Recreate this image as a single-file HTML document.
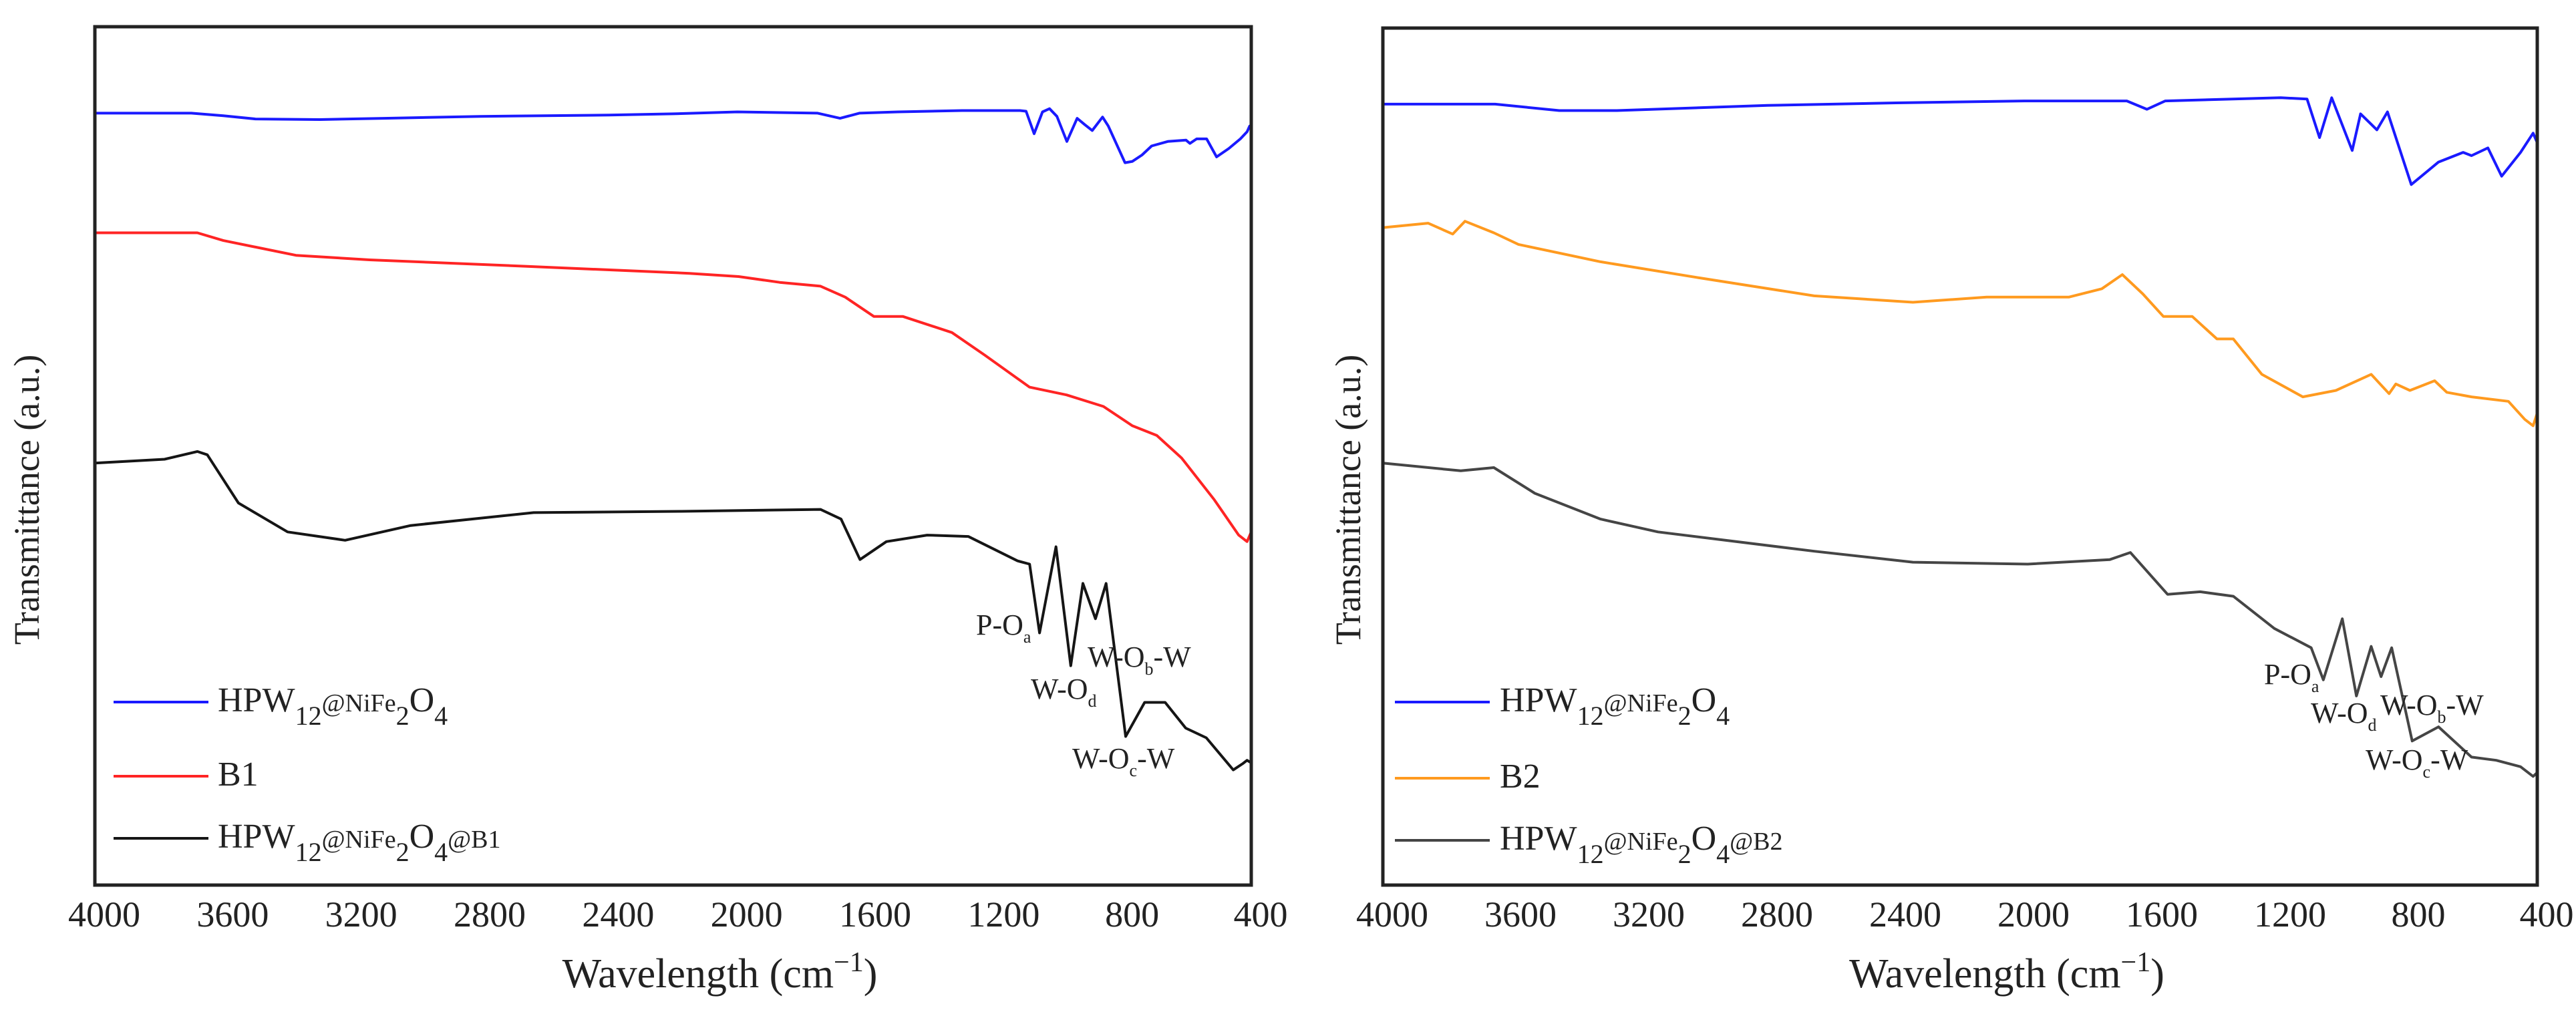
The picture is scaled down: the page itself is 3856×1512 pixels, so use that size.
<!DOCTYPE html>
<html><head><meta charset="utf-8">
<style>
html,body{margin:0;padding:0;background:#fff;}
svg{display:block;}
text{font-family:"Liberation Serif",serif;fill:#222;}
</style></head>
<body>
<svg id="chart" width="3856" height="1512" viewBox="0 0 3856 1512" xmlns="http://www.w3.org/2000/svg">
<g id="p1"></g>
<g id="p2"></g>
</svg>
<script>
const xTicks = [4000,3600,3200,2800,2400,2000,1600,1200,800,400];

const leftBlueW = [4000,3700,3600,3500,3300,3100,2800,2400,2200,2000,1750,1680,1620,1500,1300,1120,1101,1076,1050,1028,1005,974,942,918,895,863,845,793,770,740,710,660,603,591,570,539,508,470,434,413,405,400];
const leftBlueV = [120.0,120.0,119.6,119.1,119.0,119.2,119.5,119.7,119.9,120.2,120.0,119.2,120.0,120.2,120.4,120.4,120.3,116.8,120.2,120.7,119.5,115.6,119.2,118.2,117.3,119.4,118.0,112.3,112.5,113.5,114.9,115.6,115.8,115.3,116.0,116.0,113.2,114.5,116.0,117.1,118.0,117.5];

const leftRedW = [4000,3681,3600,3374,3145,2660,2149,1996,1868,1741,1664,1575,1485,1332,1230,1090,975,860,770,694,617,515,439,413,400];
const leftRedV = [101.4,101.4,100.2,97.9,97.2,96.2,95.1,94.6,93.7,93.1,91.4,88.4,88.4,85.9,82.4,77.4,76.2,74.4,71.4,69.9,66.4,59.9,54.4,53.4,54.9];

const leftBlackW = [4000,3783,3681,3650,3553,3400,3221,3017,2634,2175,1741,1677,1618,1536,1409,1281,1128,1090,1059,1008,962,924,885,852,791,732,668,604,540,456,426,413,400];
const leftBlackV = [65.6,66.2,67.4,66.9,59.4,54.9,53.6,55.9,57.9,58.1,58.4,56.9,50.6,53.4,54.4,54.2,50.4,49.9,39.2,52.6,34.1,46.9,41.4,46.9,23.1,28.4,28.4,24.4,22.9,17.9,18.9,19.4,19.0];

const rightBlueW = [4000,3650,3450,3270,2800,2400,2000,1680,1617,1560,1200,1118,1079,1041,977,951,900,867,793,708,631,605,554,511,452,413,400];
const rightBlueV = [121.4,121.4,120.4,120.4,121.2,121.6,121.9,121.9,120.6,121.9,122.4,122.2,116.2,122.4,114.2,119.9,117.4,120.2,108.9,112.4,113.9,113.4,114.6,110.2,113.9,116.9,115.4];

const rightOrangeW = [4000,3859,3782,3744,3654,3577,3321,3014,2655,2347,2117,1861,1758,1694,1630,1566,1476,1399,1348,1259,1131,1028,918,862,841,797,720,682,605,490,439,413,400];
const rightOrangeV = [102.2,102.9,101.2,103.2,101.4,99.6,96.9,94.4,91.6,90.6,91.4,91.4,92.7,94.9,91.9,88.4,88.4,84.9,84.9,79.4,75.9,76.9,79.4,76.4,77.9,76.9,78.4,76.6,75.9,75.2,72.4,71.4,73.4];

const rightGreyW = [4000,3757,3654,3526,3321,3142,2655,2347,1989,1733,1669,1553,1451,1348,1220,1105,1067,1008,964,918,887,854,790,708,605,528,452,413,400];
const rightGreyV = [65.6,64.4,64.9,60.9,56.9,54.9,51.9,50.2,49.9,50.6,51.7,45.2,45.6,44.9,39.9,36.9,31.9,41.4,29.4,37.1,32.4,36.9,22.4,24.6,19.9,19.4,18.4,16.9,17.5];

const leftLegend = [["HPW","12","@NiFe","2","O","4",""],["B1"],["HPW","12","@NiFe","2","O","4","@B1"]];
const rightLegend = [["HPW","12","@NiFe","2","O","4",""],["B2"],["HPW","12","@NiFe","2","O","4","@B2"]];

const NS = "http://www.w3.org/2000/svg";
function mk(tag, attrs, parent){
  const e = document.createElementNS(NS, tag);
  for (const k in attrs) e.setAttribute(k, attrs[k]);
  parent.appendChild(e);
  return e;
}

function panel(g, L, R, T, B, series, legendRows, legendX, legendYs, textX, yTitleX, annos){
  const xs = w => L + (4000 - w) / 3600 * (R - L);
  const ys = v => B - v * 9.63;
  series.forEach(s => {
    let d = "";
    s.w.forEach((w,i) => { d += (i ? "L" : "M") + xs(w).toFixed(1) + " " + ys(s.v[i]).toFixed(1); });
    const p = mk("path", {d:d, fill:"none", stroke:s.c, "stroke-width":4, "stroke-linejoin":"round"}, g);
    
    
  });
  const fr = mk("rect", {x:L, y:T, width:R-L, height:B-T, fill:"none", stroke:"#222", "stroke-width":5}, g);
  
  
  xTicks.forEach(t => {
    const tx = mk("text", {x:xs(t)+14, y:B+62, "font-size":54, "text-anchor":"middle"}, g);
    tx.textContent = t;
    
    
  });
  const xt = mk("text", {x:(L+R)/2+70, y:1478, "font-size":62, "text-anchor":"middle"}, g);
  
  
  xt.innerHTML = 'Wavelength (cm<tspan dy="-24" font-size="42">−1</tspan><tspan dy="24">)</tspan>';
  const yt = mk("text", {x:yTitleX, y:748, "font-size":54, "text-anchor":"middle", transform:"rotate(-90 "+yTitleX+" 748)"}, g);
  yt.textContent = "Transmittance (a.u.)";
  
  
  legendRows.forEach((row,i) => {
    const ly = legendYs[i];
    const ln = mk("line", {x1:legendX, x2:legendX+142, y1:ly, y2:ly, stroke:series[i].c, "stroke-width":4}, g);
    
    
    const tx = mk("text", {x:textX, y:ly+14, "font-size":52}, g);
    
    
    if (row.length === 1) { tx.textContent = row[0]; }
    else {
      tx.innerHTML = row[0] + '<tspan dy="20" font-size="40">'+row[1]+'</tspan><tspan dy="-20" font-size="38">'+row[2]+'</tspan><tspan dy="20" font-size="40">'+row[3]+'</tspan><tspan dy="-20">'+row[4]+'</tspan><tspan dy="20" font-size="40">'+row[5]+'</tspan><tspan dy="-20" font-size="38">'+row[6]+'</tspan>';
    }
  });
  annos.forEach(a => {
    const tx = mk("text", {x:a[0], y:a[1], "font-size":44}, g);
    
    
    tx.innerHTML = a[2] + '<tspan dy="12" font-size="26">'+a[3]+'</tspan><tspan dy="-12">'+a[4]+'</tspan>';
  });
}

panel(document.getElementById("p1"), 142, 1873, 40, 1325,
  [{w:leftBlueW, v:leftBlueV, c:"#1a1aff", name:"hpw12-nife2o4-line"},
   {w:leftRedW, v:leftRedV, c:"#ff2424", name:"b1-line"},
   {w:leftBlackW, v:leftBlackV, c:"#151515", name:"hpw12-nife2o4-b1-line"}],
  leftLegend, 170, [1051,1162,1255], 326, 58,
  [[1461,950,"P-O","a",""],[1628,998,"W-O","b","-W"],[1543,1046,"W-O","d",""],[1605,1150,"W-O","c","-W"]]);

panel(document.getElementById("p2"), 2070, 3798, 42, 1325,
  [{w:rightBlueW, v:rightBlueV, c:"#1a1aff", name:"hpw12-nife2o4-line"},
   {w:rightOrangeW, v:rightOrangeV, c:"#ff9a1f", name:"b2-line"},
   {w:rightGreyW, v:rightGreyV, c:"#454545", name:"hpw12-nife2o4-b2-line"}],
  rightLegend, 2088, [1051,1165,1258], 2245, 2036,
  [[3389,1024,"P-O","a",""],[3563,1070,"W-O","b","-W"],[3459,1082,"W-O","d",""],[3541,1152,"W-O","c","-W"]]);
</script>
</body></html>
